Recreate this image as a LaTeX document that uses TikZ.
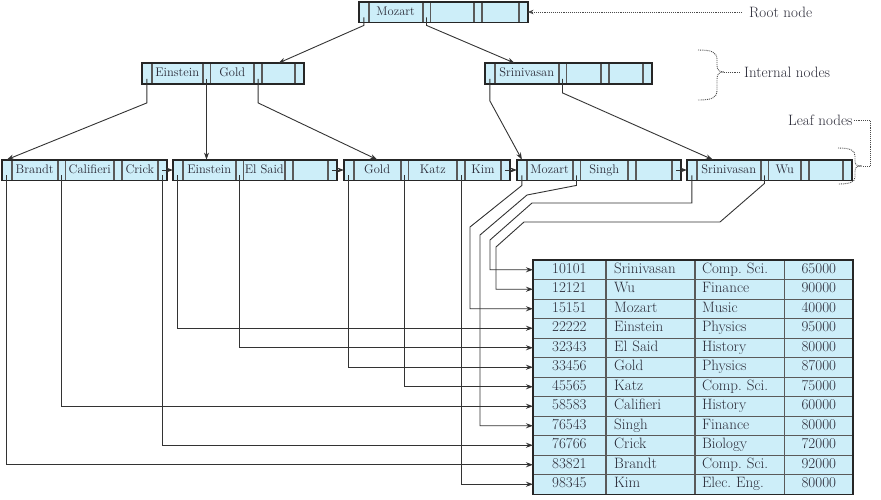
\documentclass[tikz,border=0pt]{standalone}
\usepackage{fontspec}
\usepackage{tikz}
\usetikzlibrary{positioning, arrows.meta}

\definecolor{cellfill}{HTML}{CDEEF9}
\definecolor{cellline}{HTML}{5A5A5A}
\definecolor{framecol}{HTML}{262626}
\definecolor{linkcol}{HTML}{333333}
\definecolor{textcol}{HTML}{2B2B38}
\definecolor{notecol}{HTML}{4A4A4A}

\newcommand{\keyfont}{\fontsize{12.5}{12.5}\selectfont}
\newcommand{\recfont}{\fontsize{15}{15}\selectfont\frenchspacing}

\begin{document}
\begin{tikzpicture}[
  x=1pt, y=-1pt,
  ptr/.style={draw=cellline, fill=cellfill, line width=0.8pt, minimum width=7pt,
    minimum height=20pt, inner sep=0pt},
  key/.style={draw=cellline, fill=cellfill, line width=0.8pt, minimum height=20pt,
    inner sep=0pt, font=\keyfont, text=textcol, text height=9pt, text depth=3pt},
  frame/.style={draw=framecol, line width=1.8pt},
  rec/.style={draw=cellline, fill=cellfill, line width=0.8pt, minimum height=19.5pt,
    inner ysep=0pt, font=\recfont, text=textcol, text height=10.5pt, text depth=3.5pt},
  link/.style={draw=linkcol, line width=0.9pt, -{Stealth[length=7pt, width=5pt]}},
  note/.style={draw=notecol, line width=0.9pt, densely dotted},
  tag/.style={font=\recfont, text=textcol, inner sep=1pt}
]
  \useasboundingbox (0,0) rectangle (881,499);

  % Root node.
  \node[ptr, minimum width=9pt, anchor=west] (root-p1) at (359,12) {};
  \node[key, minimum width=53pt, right=0pt of root-p1] (root-k1) {Mozart};
  \node[ptr, right=0pt of root-k1] (root-p2) {};
  \node[key, minimum width=43pt, right=0pt of root-p2] (root-k2) {};
  \node[ptr, right=0pt of root-k2] (root-p3) {};
  \node[key, minimum width=36pt, right=0pt of root-p3] (root-k3) {};
  \node[ptr, minimum width=8pt, right=0pt of root-k3] (root-p4) {};
  \draw[frame] (root-p1.north west) rectangle (root-p4.south east);

  % Internal nodes.
  \node[ptr, minimum width=9pt, anchor=west] (int1-p1) at (142,73.5) {};
  \node[key, minimum width=50pt, right=0pt of int1-p1] (int1-k1) {Einstein};
  \node[ptr, right=0pt of int1-k1] (int1-p2) {};
  \node[key, minimum width=43pt, right=0pt of int1-p2] (int1-k2) {Gold};
  \node[ptr, right=0pt of int1-k2] (int1-p3) {};
  \node[key, minimum width=32pt, right=0pt of int1-p3] (int1-k3) {};
  \node[ptr, minimum width=8pt, right=0pt of int1-k3] (int1-p4) {};
  \draw[frame] (int1-p1.north west) rectangle (int1-p4.south east);

  \node[ptr, minimum width=9pt, anchor=west] (int2-p1) at (485,73.5) {};
  \node[key, minimum width=63pt, right=0pt of int2-p1] (int2-k1) {Srinivasan};
  \node[ptr, right=0pt of int2-k1] (int2-p2) {};
  \node[key, minimum width=34pt, right=0pt of int2-p2] (int2-k2) {};
  \node[ptr, right=0pt of int2-k2] (int2-p3) {};
  \node[key, minimum width=33pt, right=0pt of int2-p3] (int2-k3) {};
  \node[ptr, minimum width=8pt, right=0pt of int2-k3] (int2-p4) {};
  \draw[frame] (int2-p1.north west) rectangle (int2-p4.south east);

  % Leaf nodes.
  \node[ptr, minimum width=9pt, anchor=west] (leaf1-p1) at (2,170) {};
  \node[key, minimum width=45pt, right=0pt of leaf1-p1] (leaf1-k1) {Brandt};
  \node[ptr, right=0pt of leaf1-k1] (leaf1-p2) {};
  \node[key, minimum width=48pt, right=0pt of leaf1-p2] (leaf1-k2) {Califieri};
  \node[ptr, right=0pt of leaf1-k2] (leaf1-p3) {};
  \node[key, minimum width=35pt, right=0pt of leaf1-p3] (leaf1-k3) {Crick};
  \node[ptr, minimum width=8pt, right=0pt of leaf1-k3] (leaf1-p4) {};
  \draw[frame] (leaf1-p1.north west) rectangle (leaf1-p4.south east);

  \node[ptr, minimum width=9pt, anchor=west] (leaf2-p1) at (173,170) {};
  \node[key, minimum width=52pt, right=0pt of leaf2-p1] (leaf2-k1) {Einstein};
  \node[ptr, right=0pt of leaf2-k1] (leaf2-p2) {};
  \node[key, minimum width=41pt, right=0pt of leaf2-p2] (leaf2-k2) {El Said};
  \node[ptr, right=0pt of leaf2-k2] (leaf2-p3) {};
  \node[key, minimum width=34pt, right=0pt of leaf2-p3] (leaf2-k3) {};
  \node[ptr, minimum width=8pt, right=0pt of leaf2-k3] (leaf2-p4) {};
  \draw[frame] (leaf2-p1.north west) rectangle (leaf2-p4.south east);

  \node[ptr, minimum width=9pt, anchor=west] (leaf3-p1) at (344,170) {};
  \node[key, minimum width=46pt, right=0pt of leaf3-p1] (leaf3-k1) {Gold};
  \node[ptr, right=0pt of leaf3-k1] (leaf3-p2) {};
  \node[key, minimum width=48pt, right=0pt of leaf3-p2] (leaf3-k2) {Katz};
  \node[ptr, right=0pt of leaf3-k2] (leaf3-p3) {};
  \node[key, minimum width=35pt, right=0pt of leaf3-p3] (leaf3-k3) {Kim};
  \node[ptr, minimum width=8pt, right=0pt of leaf3-k3] (leaf3-p4) {};
  \draw[frame] (leaf3-p1.north west) rectangle (leaf3-p4.south east);

  \node[ptr, minimum width=9pt, anchor=west] (leaf4-p1) at (517,170) {};
  \node[key, minimum width=45pt, right=0pt of leaf4-p1] (leaf4-k1) {Mozart};
  \node[ptr, right=0pt of leaf4-k1] (leaf4-p2) {};
  \node[key, minimum width=47pt, right=0pt of leaf4-p2] (leaf4-k2) {Singh};
  \node[ptr, right=0pt of leaf4-k2] (leaf4-p3) {};
  \node[key, minimum width=35pt, right=0pt of leaf4-p3] (leaf4-k3) {};
  \node[ptr, minimum width=8pt, right=0pt of leaf4-k3] (leaf4-p4) {};
  \draw[frame] (leaf4-p1.north west) rectangle (leaf4-p4.south east);

  \node[ptr, minimum width=9pt, anchor=west] (leaf5-p1) at (687,170) {};
  \node[key, minimum width=63pt, right=0pt of leaf5-p1] (leaf5-k1) {Srinivasan};
  \node[ptr, right=0pt of leaf5-k1] (leaf5-p2) {};
  \node[key, minimum width=32pt, right=0pt of leaf5-p2] (leaf5-k2) {Wu};
  \node[ptr, right=0pt of leaf5-k2] (leaf5-p3) {};
  \node[key, minimum width=33pt, right=0pt of leaf5-p3] (leaf5-k3) {};
  \node[ptr, minimum width=8pt, right=0pt of leaf5-k3] (leaf5-p4) {};
  \draw[frame] (leaf5-p1.north west) rectangle (leaf5-p4.south east);

  % Instructor records.
  \foreach \i/\id/\nm/\dept/\sal in {1/10101/Srinivasan/Comp. Sci./65000,
      2/12121/Wu/Finance/90000, 3/15151/Mozart/Music/40000,
      4/22222/Einstein/Physics/95000, 5/32343/El Said/History/80000,
      6/33456/Gold/Physics/87000, 7/45565/Katz/Comp. Sci./75000,
      8/58583/Califieri/History/60000, 9/76543/Singh/Finance/80000,
      10/76766/Crick/Biology/72000, 11/83821/Brandt/Comp. Sci./92000,
      12/98345/Kim/Elec. Eng./80000} {
    \node[rec, anchor=west, text width=72pt, inner xsep=0pt, align=center]
      (rec\i) at (533,250.25+19.5*\i) {\id};
    \node[rec, text width=72pt, inner xsep=8pt, align=left, right=0pt of rec\i]
      (rec\i-name) {\nm};
    \node[rec, text width=75pt, inner xsep=7pt, align=left, right=0pt of rec\i-name]
      (rec\i-dept) {\dept};
    \node[rec, text width=68pt, inner xsep=0pt, align=center, right=0pt of rec\i-dept]
      (rec\i-sal) {\sal};
  }
  \draw[frame] (rec1.north west) rectangle (rec12-sal.south east);

  % Tree pointers.
  \draw[link] ([yshift=5pt]root-p1.south) -- ++(0,8) -- (int1-k3.north);
  \draw[link] ([yshift=5pt]root-p2.south) -- ++(0,8) -- ([xshift=-12pt]int2-k1.north);
  \draw[link] ([yshift=5pt]int1-p1.south) -- ++(0,24) -- (leaf1-p1.north);
  \draw[link] ([yshift=5pt]int1-p2.south) -- (int1-p2.south |- leaf2-k1.north);
  \draw[link] ([yshift=5pt]int1-p3.south) -- ++(0,24) -- (leaf3-k1.north);
  \draw[link] ([yshift=5pt]int2-p1.south) -- ++(0,22) -- (leaf4-p1.north);
  \draw[link] ([yshift=5pt]int2-p2.south) -- ++(0,14) -- ([xshift=-16pt]leaf5-k1.north);

  % Sibling pointers between leaves.
  \draw[link] (leaf1-p4.center) -- (leaf2-p1.west);
  \draw[link] (leaf2-p4.center) -- (leaf3-p1.west);
  \draw[link] (leaf3-p4.center) -- (leaf4-p1.west);
  \draw[link] (leaf4-p4.center) -- (leaf5-p1.west);

  % Leaf pointers to the records.
  \draw[link] ([yshift=5pt]leaf1-p1.south) |- (rec11.west);
  \draw[link] ([yshift=5pt]leaf1-p2.south) |- (rec8.west);
  \draw[link] ([yshift=5pt]leaf1-p4.south) |- (rec10.west);
  \draw[link] ([yshift=5pt]leaf2-p1.south) |- (rec4.west);
  \draw[link] ([yshift=5pt]leaf2-p2.south) |- (rec5.west);
  \draw[link] ([yshift=5pt]leaf3-p1.south) |- (rec6.west);
  \draw[link] ([yshift=5pt]leaf3-p2.south) |- (rec7.west);
  \draw[link] ([yshift=5pt]leaf3-p3.south) |- (rec12.west);
  \draw[link] ([yshift=5pt]leaf4-p1.south) -- ++(0,10) -- (470,227) |- (rec3.west);
  \draw[link] ([yshift=5pt]leaf4-p2.south) -- ++(0,10) -- (527,195) -- (480,235)
    |- (rec9.west);
  \draw[link] ([yshift=5pt]leaf5-p1.south) |- (532,203) -- (490,240) |- (rec1.west);
  \draw[link] ([yshift=5pt]leaf5-p2.south) -- ++(0,8) -- (720,222) -- (524,222)
    -- (496,247) |- (rec2.west);

  % Annotations.
  \node[tag, anchor=west] (rootlbl) at (748,12) {Root node};
  \draw[note, -{Stealth[length=6pt, width=4.5pt]}] ([xshift=-6pt]rootlbl.west)
    -- (root-p4.east);

  \node[tag, anchor=west] (intlbl) at (743,72) {Internal nodes};
  \draw[note] (698,50) .. controls (712,50) and (717,52) .. (717,60) -- (717,65)
    .. controls (717,70) and (719,72) .. (724,72) coordinate (inttip)
    .. controls (719,72) and (717,74) .. (717,79) -- (717,90)
    .. controls (717,98) and (712,100) .. (698,100);
  \draw[note] (inttip) -- ([xshift=-3pt]intlbl.west);

  \node[tag, anchor=west] (leaflbl) at (787,120) {Leaf nodes};
  \draw[note] (838,148) .. controls (850,148) and (855,150) .. (855,156) -- (855,161)
    .. controls (855,165) and (857,166) .. (862,166) coordinate (leaftip)
    .. controls (857,166) and (855,167) .. (855,171) -- (855,177)
    .. controls (855,182) and (850,184) .. (838,184);
  \draw[note] (leaflbl.east) -| (870,166) -- (leaftip);
\end{tikzpicture}
\end{document}
